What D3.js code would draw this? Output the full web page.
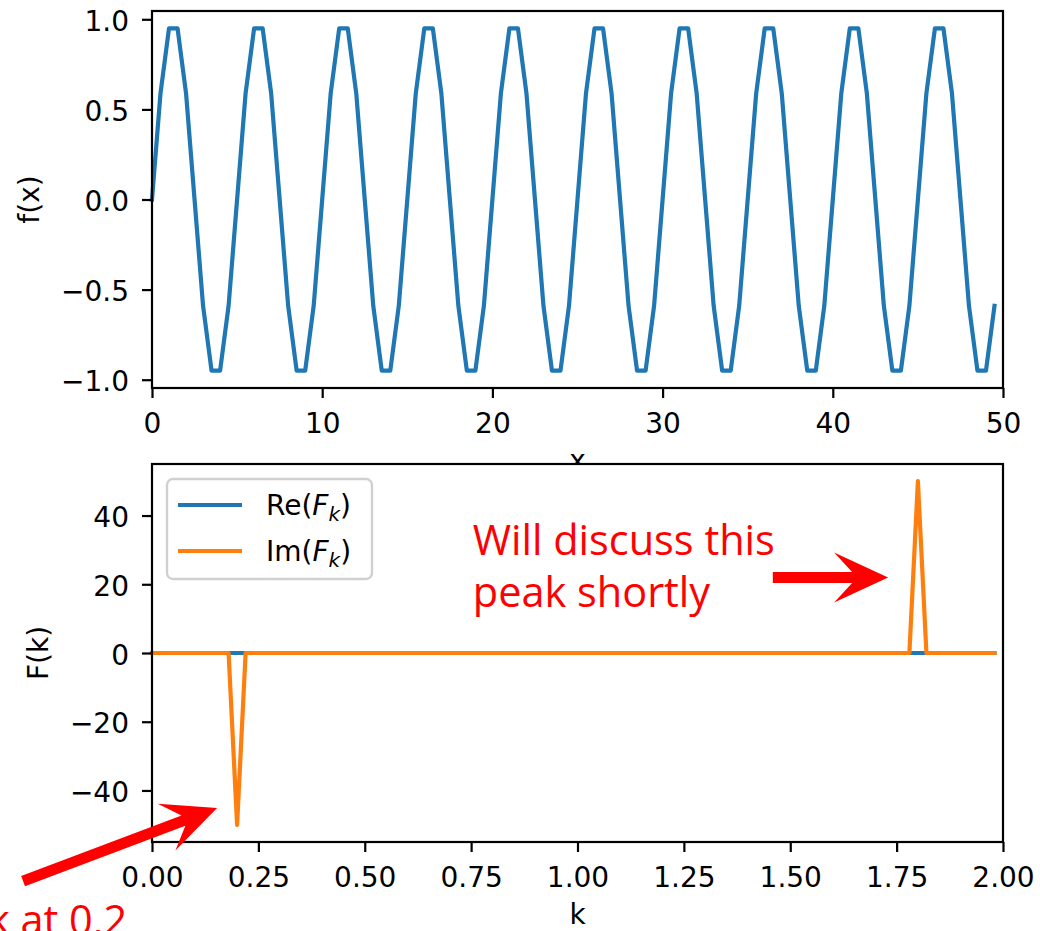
<!DOCTYPE html>
<html>
<head>
<meta charset="utf-8">
<script src="https://cdn.jsdelivr.net/npm/d3@7"></script>
<style>
  body { margin: 0; background: #fff; }
  svg { display: block; }
</style>
</head>
<body>
<div id="chart"></div>
<script>
// sampled signal f(x), one value every 0.5 in x
const xStep = 0.5;
const fValues = [
  0, 0.59, 0.95, 0.95, 0.59, 0, -0.59, -0.95, -0.95, -0.59,
  0, 0.59, 0.95, 0.95, 0.59, 0, -0.59, -0.95, -0.95, -0.59,
  0, 0.59, 0.95, 0.95, 0.59, 0, -0.59, -0.95, -0.95, -0.59,
  0, 0.59, 0.95, 0.95, 0.59, 0, -0.59, -0.95, -0.95, -0.59,
  0, 0.59, 0.95, 0.95, 0.59, 0, -0.59, -0.95, -0.95, -0.59,
  0, 0.59, 0.95, 0.95, 0.59, 0, -0.59, -0.95, -0.95, -0.59,
  0, 0.59, 0.95, 0.95, 0.59, 0, -0.59, -0.95, -0.95, -0.59,
  0, 0.59, 0.95, 0.95, 0.59, 0, -0.59, -0.95, -0.95, -0.59,
  0, 0.59, 0.95, 0.95, 0.59, 0, -0.59, -0.95, -0.95, -0.59,
  0, 0.59, 0.95, 0.95, 0.59, 0, -0.59, -0.95, -0.95, -0.59
];

// transform F(k), one value every 0.02 in k
const kStep = 0.02;
const reF = [
  0, 0, 0, 0, 0, 0, 0, 0, 0, 0,
  0, 0, 0, 0, 0, 0, 0, 0, 0, 0,
  0, 0, 0, 0, 0, 0, 0, 0, 0, 0,
  0, 0, 0, 0, 0, 0, 0, 0, 0, 0,
  0, 0, 0, 0, 0, 0, 0, 0, 0, 0,
  0, 0, 0, 0, 0, 0, 0, 0, 0, 0,
  0, 0, 0, 0, 0, 0, 0, 0, 0, 0,
  0, 0, 0, 0, 0, 0, 0, 0, 0, 0,
  0, 0, 0, 0, 0, 0, 0, 0, 0, 0,
  0, 0, 0, 0, 0, 0, 0, 0, 0, 0
];
const imF = [
  0, 0, 0, 0, 0, 0, 0, 0, 0, 0,
  -50, 0, 0, 0, 0, 0, 0, 0, 0, 0,
  0, 0, 0, 0, 0, 0, 0, 0, 0, 0,
  0, 0, 0, 0, 0, 0, 0, 0, 0, 0,
  0, 0, 0, 0, 0, 0, 0, 0, 0, 0,
  0, 0, 0, 0, 0, 0, 0, 0, 0, 0,
  0, 0, 0, 0, 0, 0, 0, 0, 0, 0,
  0, 0, 0, 0, 0, 0, 0, 0, 0, 0,
  0, 0, 0, 0, 0, 0, 0, 0, 0, 0,
  50, 0, 0, 0, 0, 0, 0, 0, 0, 0
];

const topXTicks = [0, 10, 20, 30, 40, 50];
const topYTicks = [-1.0, -0.5, 0.0, 0.5, 1.0];
const botXTicks = [0, 0.25, 0.5, 0.75, 1.0, 1.25, 1.5, 1.75, 2.0];
const botYTicks = [-40, -20, 0, 20, 40];

const W = 1040, H = 931;
const axLeft = 152, axRight = 1003;
const blue = "#1f77b4", orange = "#ff7f0e";
const font = "'DejaVu Sans', sans-serif";
const noteFont = "'Open Sans', sans-serif";

const svg = d3.select("#chart")
  .append("svg")
  .attr("width", W)
  .attr("height", H)
  .style("background", "#fff");

const xTop = d3.scaleLinear().domain([0, 50]).range([axLeft, axRight]);
const yTop = d3.scaleLinear().domain([-1.046, 1.046]).range([388, 11]);
const xBot = d3.scaleLinear().domain([0, 2]).range([axLeft, axRight]);
const yBot = d3.scaleLinear().domain([-55, 55]).range([842, 464]);

function styleAxis(g) {
  g.select(".domain").remove();
  g.selectAll(".tick line").attr("stroke", "#000").attr("stroke-width", 2.2);
  g.selectAll(".tick text")
    .attr("fill", "#000")
    .style("font-family", font)
    .style("font-size", "28px");
}

function drawFrame(x, y, xTicks, yTicks, xFmt, yFmt, xLabel, yLabel, yLabelX) {
  const [y1, y0] = y.range();
  svg.append("rect")
    .attr("x", axLeft).attr("y", y0)
    .attr("width", axRight - axLeft).attr("height", y1 - y0)
    .attr("fill", "#fff");
  return () => {
    svg.append("g")
      .attr("transform", `translate(0,${y1})`)
      .call(d3.axisBottom(x).tickValues(xTicks).tickFormat(xFmt).tickSize(10).tickPadding(15))
      .call(styleAxis);
    svg.append("g")
      .attr("transform", `translate(${axLeft},0)`)
      .call(d3.axisLeft(y).tickValues(yTicks).tickFormat(yFmt).tickSize(10).tickPadding(13))
      .call(styleAxis)
      .call(g => g.selectAll(".tick text").attr("dy", "0.4em"));
    svg.append("rect")
      .attr("x", axLeft).attr("y", y0)
      .attr("width", axRight - axLeft).attr("height", y1 - y0)
      .attr("fill", "none")
      .attr("stroke", "#000")
      .attr("stroke-width", 2.2);
    svg.append("text")
      .attr("x", (axLeft + axRight) / 2)
      .attr("y", y1 + 82)
      .attr("text-anchor", "middle")
      .style("font-family", font)
      .style("font-size", "28px")
      .text(xLabel);
    svg.append("text")
      .attr("transform", `translate(${yLabelX},${(y0 + y1) / 2}) rotate(-90)`)
      .attr("text-anchor", "middle")
      .style("font-family", font)
      .style("font-size", "28px")
      .text(yLabel);
  };
}

// ---- top panel: f(x)
const finishTop = drawFrame(xTop, yTop, topXTicks, topYTicks, d3.format(".0f"), d3.format(".1f"), "x", "f(x)", 39);

svg.append("path")
  .datum(fValues)
  .attr("fill", "none")
  .attr("stroke", blue)
  .attr("stroke-width", 4.2)
  .attr("stroke-linejoin", "round")
  .attr("stroke-linecap", "square")
  .attr("d", d3.line().x((d, i) => xTop(i * xStep)).y(d => yTop(d)));

finishTop();

// ---- bottom panel: F(k)  (its background hides part of the "x" label, as in the original)
const finishBot = drawFrame(xBot, yBot, botXTicks, botYTicks, d3.format(".2f"), d3.format("d"), "k", "F(k)", 48);

const kLine = d3.line().x((d, i) => xBot(i * kStep)).y(d => yBot(d));

[[reF, blue], [imF, orange]].forEach(([vals, col]) => {
  svg.append("path")
    .datum(vals)
    .attr("fill", "none")
    .attr("stroke", col)
    .attr("stroke-width", 4.2)
    .attr("stroke-linejoin", "round")
    .attr("stroke-linecap", "square")
    .attr("d", kLine);
});

finishBot();

// legend
const legend = svg.append("g");
legend.append("rect")
  .attr("x", 167).attr("y", 479)
  .attr("width", 205).attr("height", 100)
  .attr("rx", 6)
  .attr("fill", "#fff").attr("fill-opacity", 0.8)
  .attr("stroke", "#d0d0d0").attr("stroke-width", 2.4);

[["Re", blue], ["Im", orange]].forEach(([name, col], i) => {
  const ly = 505 + i * 46;
  legend.append("line")
    .attr("x1", 178).attr("x2", 242)
    .attr("y1", ly).attr("y2", ly)
    .attr("stroke", col).attr("stroke-width", 4.2);
  const t = legend.append("text")
    .attr("x", 266).attr("y", ly + 10)
    .style("font-family", font)
    .style("font-size", "28px");
  t.append("tspan").text(name + "(");
  t.append("tspan").style("font-style", "italic").text("F");
  t.append("tspan").attr("dy", 6).style("font-size", "20px").style("font-style", "italic").text("k");
  t.append("tspan").attr("dy", -6).text(")");
});

// red annotations, placed in data coordinates of the lower panel
const notes = [
  { text: "Will discuss this", k: 0.754, v: 28.5, anchor: "start" },
  { text: "peak shortly", k: 0.754, v: 13.4, anchor: "start" },
  { text: "Peak at 0.2", k: -0.058, v: -82, anchor: "end" }
];
const noteText = svg.selectAll("text.note")
  .data(notes)
  .enter()
  .append("text")
  .attr("class", "note")
  .attr("x", d => xBot(d.k))
  .attr("y", d => yBot(d.v))
  .attr("text-anchor", d => d.anchor)
  .attr("fill", "#ff0000")
  .style("font-family", noteFont)
  .style("font-size", "42px")
  .text(d => d.text);

// squeeze to the narrower face used in the original
const natural = noteText.node().getComputedTextLength();
const squeeze = 302 / natural;
noteText.each(function() {
  const w = this.getComputedTextLength();
  d3.select(this).attr("textLength", w * squeeze).attr("lengthAdjust", "spacingAndGlyphs");
});

const arrows = [
  { from: [1.459, 22], to: [1.73, 22] },
  { from: [-0.303, -66.4], to: [0.153, -45.1] }
];
arrows.forEach(a => {
  const x0 = xBot(a.from[0]), y0 = yBot(a.from[1]);
  const x1 = xBot(a.to[0]), y1 = yBot(a.to[1]);
  const len = Math.hypot(x1 - x0, y1 - y0);
  const ang = Math.atan2(y1 - y0, x1 - x0) * 180 / Math.PI;
  // swept-back head: barbs sit behind the point where they meet the shaft
  const pts = [[-len, -5.5], [-36, -5.5], [-54, -25], [0, 0], [-54, 25], [-36, 5.5], [-len, 5.5]];
  svg.append("polygon")
    .attr("points", pts.map(p => p.join(",")).join(" "))
    .attr("transform", `translate(${x1},${y1}) rotate(${ang})`)
    .attr("fill", "#ff0000");
});
</script>
</body>
</html>
